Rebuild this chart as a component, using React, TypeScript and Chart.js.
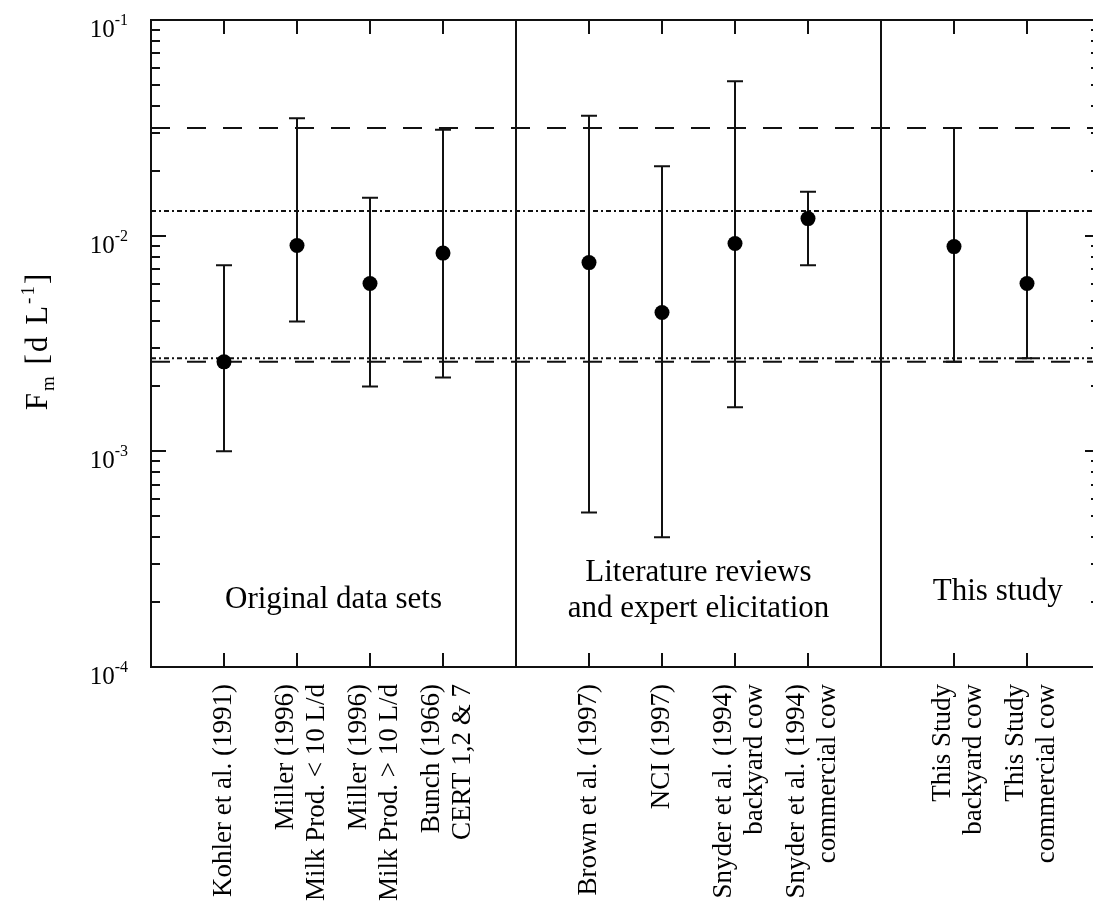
import React, { useEffect, useRef } from "react";
import { Chart, registerables } from "chart.js";

Chart.register(...registerables);

// ---- data ----
const categoryLabels: string[][] = [
  ["Kohler et al. (1991)"],
  ["Miller (1996)", "Milk Prod. < 10 L/d"],
  ["Miller (1996)", "Milk Prod. > 10 L/d"],
  ["Bunch (1966)", "CERT 1,2 & 7"],
  ["Brown et al. (1997)"],
  ["NCI (1997)"],
  ["Snyder et al. (1994)", "backyard cow"],
  ["Snyder et al. (1994)", "commercial cow"],
  ["This Study", "backyard cow"],
  ["This Study", "commercial cow"],
];
const positions = [1, 2, 3, 4, 6, 7, 8, 9, 11, 12];
const central = [0.0026, 0.009, 0.006, 0.0083, 0.0075, 0.0044, 0.0092, 0.012, 0.0089, 0.006];
const lower = [0.001, 0.004, 0.002, 0.0022, 0.00052, 0.0004, 0.0016, 0.0073, 0.0026, 0.0027];
const upper = [0.0073, 0.035, 0.015, 0.031, 0.036, 0.021, 0.052, 0.016, 0.0316, 0.013];
const dashedLevels = [0.0316, 0.0026];
const dottedLevels = [0.013, 0.0027];
const separators = [5, 10];
const groupLabels: string[][] = [
  ["Original data sets"],
  ["Literature reviews", "and expert elicitation"],
  ["This study"],
];
const groupCenters = [2.5, 7.5, 11.6];
const decadeExponents = [-4, -3, -2, -1];
const X_MIN = 0;
const X_MAX = 13;
const Y_MIN = 1e-4;
const Y_MAX = 1e-1;

const SERIF = '"Liberation Serif", "DejaVu Serif", "Times New Roman", serif';
const INK = "#111";
const FRAME_OVERHANG = 7; // plot frame runs past the right edge of the picture

type Part = { t: string; size: number; dy: number };

function partsWidth(ctx: CanvasRenderingContext2D, parts: Part[]) {
  let w = 0;
  for (const p of parts) {
    ctx.font = `${p.size}px ${SERIF}`;
    w += ctx.measureText(p.t).width;
  }
  return w;
}

function drawParts(ctx: CanvasRenderingContext2D, parts: Part[], x: number, y: number) {
  let cx = x;
  ctx.textAlign = "left";
  ctx.textBaseline = "alphabetic";
  for (const p of parts) {
    ctx.font = `${p.size}px ${SERIF}`;
    ctx.fillText(p.t, cx, y + p.dy);
    cx += ctx.measureText(p.t).width;
  }
}

const overhangPlugin = {
  id: "overhang",
  afterLayout(chart: any) {
    const xs = chart.scales.x;
    const newRight = chart.width + FRAME_OVERHANG;
    xs.right = newRight;
    xs.width = newRight - xs.left;
    xs.configure();
    chart.chartArea.right = newRight;
    chart.chartArea.width = newRight - chart.chartArea.left;
  },
};

const decorPlugin = {
  id: "decor",
  beforeDatasetsDraw(chart: any) {
    const ctx: CanvasRenderingContext2D = chart.ctx;
    const xs = chart.scales.x;
    const ys = chart.scales.y;
    ctx.save();
    ctx.strokeStyle = INK;
    ctx.lineWidth = 2;
    positions.forEach((p, i) => {
      const px = Math.round(xs.getPixelForValue(p));
      const yl = ys.getPixelForValue(lower[i]);
      const yh = ys.getPixelForValue(upper[i]);
      ctx.beginPath();
      ctx.moveTo(px, yl);
      ctx.lineTo(px, yh);
      ctx.moveTo(px - 8, yl);
      ctx.lineTo(px + 8, yl);
      ctx.moveTo(px - 8, yh);
      ctx.lineTo(px + 8, yh);
      ctx.stroke();
    });
    ctx.restore();
  },
  afterDraw(chart: any) {
    const ctx: CanvasRenderingContext2D = chart.ctx;
    const xs = chart.scales.x;
    const ys = chart.scales.y;
    const { left, right, top, bottom } = chart.chartArea;
    ctx.save();
    ctx.strokeStyle = INK;
    ctx.fillStyle = "#000";
    ctx.lineWidth = 2;
    // frame
    ctx.strokeRect(left, top, right - left, bottom - top);
    // y ticks (inward, both sides)
    ctx.beginPath();
    decadeExponents.forEach((e) => {
      for (let m = 1; m <= 10; m++) {
        const v = m * Math.pow(10, e);
        if (v < Y_MIN || v > Y_MAX + 1e-12) continue;
        if (m === 10 && e !== -1) continue;
        const py = Math.round(ys.getPixelForValue(v));
        const len = m === 1 || m === 10 ? 15 : 9;
        ctx.moveTo(left, py);
        ctx.lineTo(left + len, py);
        ctx.moveTo(right, py);
        ctx.lineTo(right - len, py);
      }
    });
    // x ticks top & bottom
    positions.forEach((p) => {
      const px = Math.round(xs.getPixelForValue(p));
      ctx.moveTo(px, top);
      ctx.lineTo(px, top + 14);
      ctx.moveTo(px, bottom);
      ctx.lineTo(px, bottom - 14);
    });
    ctx.stroke();

    // y tick labels 10^k
    decadeExponents.forEach((e) => {
      const py = ys.getPixelForValue(Math.pow(10, e));
      const parts: Part[] = [
        { t: "10", size: 25, dy: 17 },
        { t: String(e), size: 16, dy: 5 },
      ];
      const w = partsWidth(ctx, parts);
      drawParts(ctx, parts, left - 23 - w, py);
    });

    // y axis title
    ctx.save();
    ctx.translate(47, 341);
    ctx.rotate(-Math.PI / 2);
    (ctx as any).letterSpacing = "2px";
    const title: Part[] = [
      { t: "F", size: 31, dy: 0 },
      { t: "m", size: 19, dy: 7 },
      { t: " [d L", size: 31, dy: 0 },
      { t: "-1", size: 19, dy: -13 },
      { t: "]", size: 31, dy: 0 },
    ];
    const tw = partsWidth(ctx, title);
    drawParts(ctx, title, -tw / 2, 0);
    (ctx as any).letterSpacing = "0px";
    ctx.restore();

    // category labels (rotated)
    ctx.font = `27px ${SERIF}`;
    positions.forEach((p, i) => {
      const px = xs.getPixelForValue(p);
      const lines = categoryLabels[i];
      const offs = lines.length === 1 ? [7] : [-4, 27];
      lines.forEach((ln, j) => {
        ctx.save();
        ctx.translate(px + offs[j], bottom + 17);
        ctx.rotate(-Math.PI / 2);
        ctx.textAlign = "right";
        ctx.textBaseline = "alphabetic";
        ctx.fillText(ln, 0, 0);
        ctx.restore();
      });
    });

    // group labels
    ctx.font = `31px ${SERIF}`;
    ctx.textAlign = "center";
    ctx.textBaseline = "alphabetic";
    groupLabels.forEach((lines, g) => {
      const cx = xs.getPixelForValue(groupCenters[g]);
      let baselines: number[];
      if (lines.length === 2) baselines = [bottom - 86, bottom - 50];
      else if (g === 0) baselines = [bottom - 59];
      else baselines = [bottom - 67];
      lines.forEach((ln, j) => ctx.fillText(ln, cx, baselines[j]));
    });
    ctx.restore();
  },
};

export default function App() {
  const ref = useRef<HTMLCanvasElement>(null);
  useEffect(() => {
    const canvas = ref.current;
    if (!canvas) return;
    const refLine = (v: number, dash: number[]) => ({
      type: "scatter" as const,
      data: [
        { x: X_MIN, y: v },
        { x: X_MAX, y: v },
      ],
      showLine: true,
      borderColor: INK,
      borderWidth: 2,
      borderDash: dash,
      pointRadius: 0,
      order: 3,
    });
    const sepLine = (x: number) => ({
      type: "scatter" as const,
      data: [
        { x, y: Y_MIN },
        { x, y: Y_MAX },
      ],
      showLine: true,
      borderColor: INK,
      borderWidth: 2,
      pointRadius: 0,
      order: 2,
    });
    const chart = new Chart(canvas, {
      type: "scatter",
      data: {
        datasets: [
          {
            data: positions.map((x, i) => ({ x, y: central[i] })),
            backgroundColor: "#000",
            borderColor: "#000",
            borderWidth: 0,
            pointRadius: 7.5,
            pointHoverRadius: 7.5,
            order: 0,
          },
          ...dashedLevels.map((v) => refLine(v, [19, 17])),
          ...dottedLevels.map((v) => refLine(v, [5, 3, 2, 3])),
          ...separators.map((x) => sepLine(x)),
        ] as any,
      },
      options: {
        responsive: false,
        maintainAspectRatio: false,
        animation: false,
        devicePixelRatio: 1,
        layout: { padding: { left: 151, top: 20, right: 0, bottom: 237 } },
        plugins: { legend: { display: false }, tooltip: { enabled: false } },
        events: [],
        scales: {
          x: { type: "linear", min: X_MIN, max: X_MAX, display: false },
          y: { type: "logarithmic", min: Y_MIN, max: Y_MAX, display: false },
        },
      },
      plugins: [overhangPlugin, decorPlugin],
    });
    return () => chart.destroy();
  }, []);
  return (
    <div
      style={{
        position: "fixed",
        left: 0,
        top: 0,
        width: 1093,
        height: 904,
        overflow: "hidden",
        background: "#fff",
      }}
    >
      <canvas
        ref={ref}
        width={1093}
        height={904}
        style={{ display: "block", width: 1093, height: 904 }}
      />
    </div>
  );
}
